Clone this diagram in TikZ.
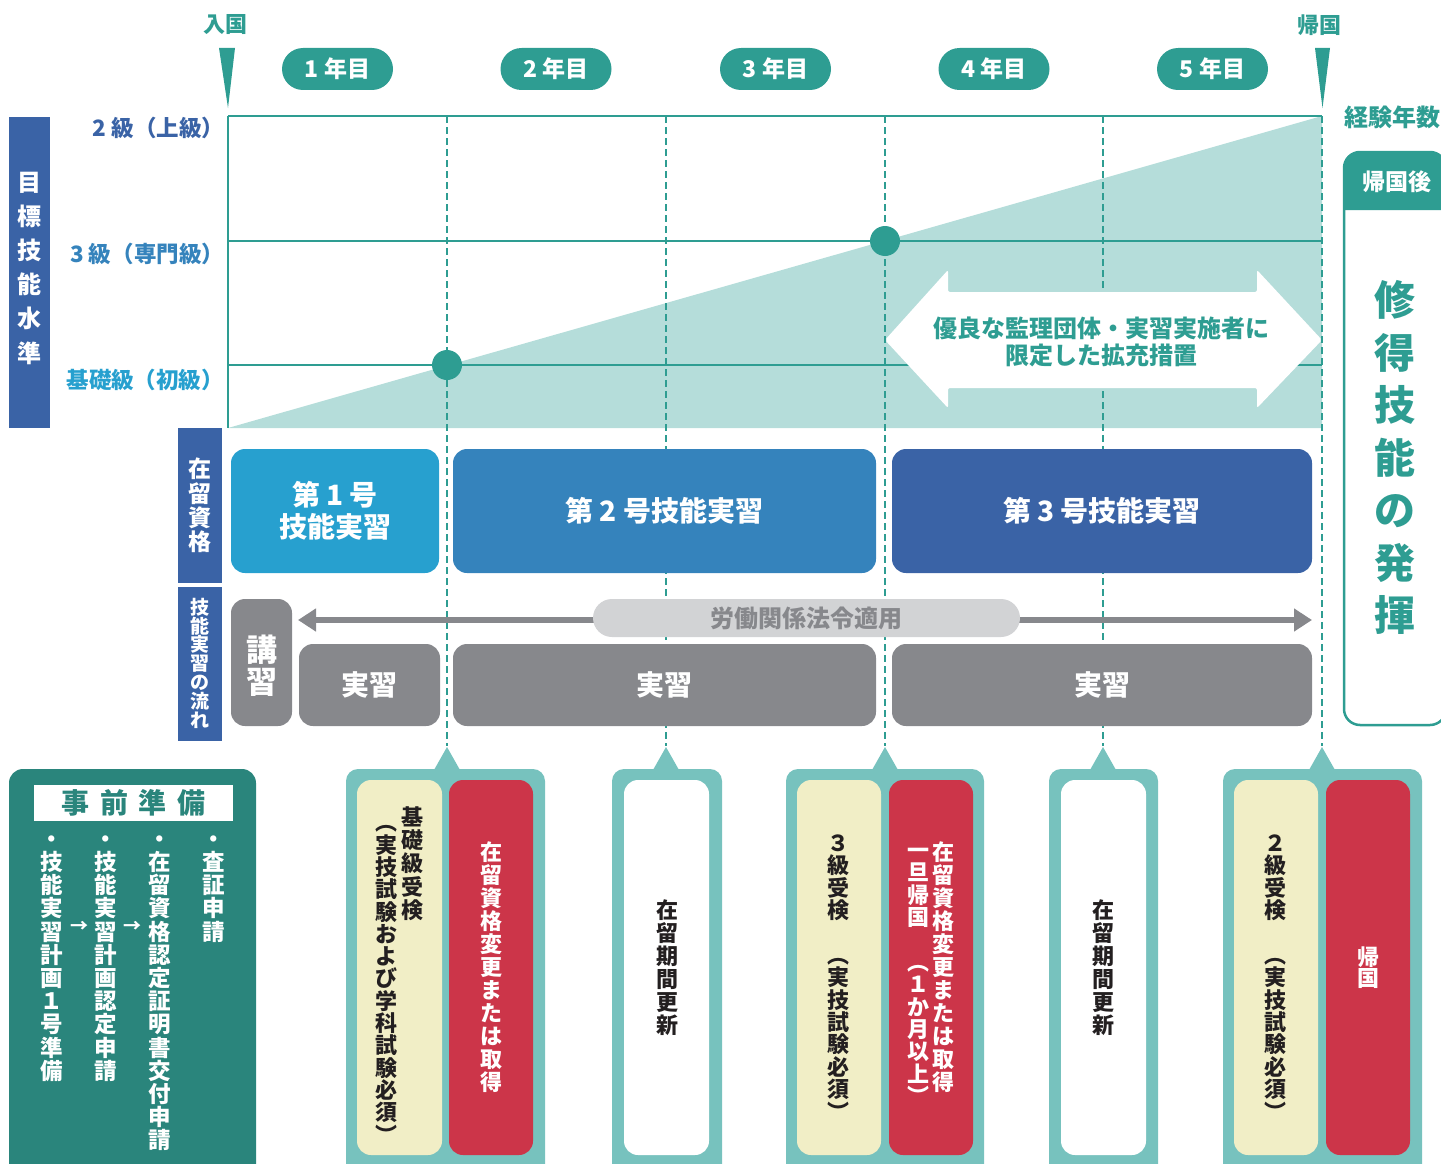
\documentclass[tikz,border=0pt]{standalone}
\usepackage{fontspec}
\setmainfont{Noto Sans CJK JP}
\usetikzlibrary{arrows.meta}
\ExplSyntaxOn
\cs_new_eq:NN \vmap \tl_map_inline:nn
\ExplSyntaxOff
\newcommand\vcol[2]{\vbox{\baselineskip=#1pt\lineskiplimit=-1000pt\lineskip=0pt\relax\vmap{#2}{\hbox to 1em{\hss\vrule width 0pt height .88em depth .12em\relax ##1\hss}}}}
\newcommand\fsb[2]{\fontsize{#1}{#2}\selectfont\bfseries}
\definecolor{tealM}{HTML}{2E9D92}
\definecolor{tealL}{HTML}{B5DDDA}
\definecolor{tealC}{HTML}{77C2BE}
\definecolor{tealD}{HTML}{2A857C}
\definecolor{blueD}{HTML}{3A63A6}
\definecolor{blueM}{HTML}{3583BC}
\definecolor{blueL}{HTML}{27A0CF}
\definecolor{grayM}{HTML}{87888C}
\definecolor{grayL}{HTML}{D2D3D5}
\definecolor{creamC}{HTML}{F1EEC6}
\definecolor{redC}{HTML}{CC3549}
\definecolor{ink}{HTML}{231F20}
\begin{document}
\begin{tikzpicture}[x=1pt,y=-1pt,
  every node/.style={inner sep=0pt,outer sep=0pt},
  dashline/.style={tealM,line width=2pt,dash pattern=on 7pt off 4pt},
  gridline/.style={tealM,line width=2.2pt},
  pill/.style={fill=tealM,text=white,rounded corners=21pt,minimum width=111pt,minimum height=42pt,font=\fsb{23}{23}},
  vt/.style={anchor=north},
  bluebox/.style={rounded corners=14pt,minimum height=124pt,text=white,font=\fsb{28}{32},align=center},
  graybox/.style={fill=grayM,rounded corners=14pt,text=white,font=\fsb{28}{28}},
  inner/.style={rounded corners=14pt,minimum height=375pt},
  calloutbg/.style={fill=tealC,rounded corners=12pt}
]
\useasboundingbox (0,0) rectangle (1441,1164);
\clip (0,0) rectangle (1441,1164);

% ---------- chart ----------
\fill[tealL] (228,428) -- (1322,116) -- (1322,428) -- cycle;
\foreach \x/\n in {447/1,666/2,885/3,1103/4,1322/5}{
  \coordinate (dt\n) at (\x,116);
  \coordinate (db\n) at (\x,746);
  \draw[dashline] (dt\n) -- (db\n);
}
\coordinate (g0l) at (228,116); \coordinate (g0r) at (1322,116);
\coordinate (g1l) at (228,241); \coordinate (g1r) at (1322,241);
\coordinate (g2l) at (228,365); \coordinate (g2r) at (1322,365);
\coordinate (g3l) at (228,428);
\draw[gridline] (g0l) -- (g0r);
\draw[gridline] (g1l) -- (g1r);
\draw[gridline] (g2l) -- (g2r);
\draw[gridline] (g0l) -- (g3l);
\fill[tealM] (447,365) circle[radius=15];
\fill[tealM] (885,241) circle[radius=15];

% white double arrow
\fill[white,rounded corners=2pt] (885,340) -- (948,270) -- (948,292) -- (1257,292) -- (1257,270) -- (1322,340) -- (1257,408) -- (1257,388) -- (948,388) -- (948,408) -- cycle;
\node[align=center,text=tealM,font=\fsb{24}{27}] (expand) at (1101,341.5) {優良な監理団体・実習実施者に\\限定した拡充措置};

% ---------- top markers ----------
\node[text=tealM,font=\fsb{22}{22}] (nyukoku) at (225,25) {入国};
\node[text=tealM,font=\fsb{22}{22}] (kikoku) at (1319,25) {帰国};
\fill[tealM] (219,48) -- (235,48) -- (228,108) -- cycle;
\fill[tealM] (1315,48) -- (1330,48) -- (1322.5,108) -- cycle;
\node[pill] (y1) at (337.5,69) {1 年目};
\node[pill] (y2) at (556,69) {2 年目};
\node[pill] (y3) at (775.5,69) {3 年目};
\node[pill] (y4) at (994,69) {4 年目};
\node[pill] (y5) at (1212.5,69) {5 年目};
\node[text=tealM,font=\fsb{24}{24}] (keiken) at (1392,117) {経験年数};

% ---------- left axis ----------
\fill[blueD] (9,117) rectangle (50,428);
\node[vt,text=white,font=\fsb{24}{24}] (mokuhyo) at (29.5,170) {\vcol{34.2}{目標技能水準}};
\node[anchor=east,text=blueD,font=\fsb{22.5}{22.5}] (lv2) at (224,128) {2 級（上級）};
\node[anchor=east,text=blueM,font=\fsb{22.5}{22.5}] (lv3) at (224,254) {3 級（専門級）};
\node[anchor=east,text=blueL,font=\fsb{22.5}{22.5}] (lvb) at (224,380) {基礎級（初級）};

\fill[blueD] (178,428) rectangle (222,583);
\fill[blueD] (178,587) rectangle (222,741);
\node[vt,text=white,font=\fsb{23}{23}] (zairyu) at (200,457.5) {\vcol{24.3}{在留資格}};
\node[vt,text=white,font=\fsb{19}{19}] (nagare) at (200,597.5) {\vcol{18.8}{技能実習の流れ}};

% ---------- status boxes ----------
\node[bluebox,fill=blueL,minimum width=208pt] (no1) at (335,511) {第 1 号\\技能実習};
\node[bluebox,fill=blueM,minimum width=423pt] (no2) at (664.5,511) {第 2 号技能実習};
\node[bluebox,fill=blueD,minimum width=420pt] (no3) at (1102,511) {第 3 号技能実習};

% ---------- practice row ----------
\node[graybox,minimum width=61pt,minimum height=127pt] (koshu) at (261.5,662.5) {};
\node[vt,text=white,font=\fsb{31}{31}] (koshuT) at (261.5,634.5) {\vcol{32}{講習}};
\node[graybox,minimum width=141pt,minimum height=82pt] (j1) at (369.5,685) {実習};
\node[graybox,minimum width=423pt,minimum height=82pt] (j2) at (664.5,685) {実習};
\node[graybox,minimum width=420pt,minimum height=82pt] (j3) at (1102,685) {実習};
\coordinate (aL) at (298,620);
\coordinate (aR) at (1312,620);
\draw[grayM,line width=6pt,{Triangle[length=18pt,width=22pt]}-{Triangle[length=18pt,width=22pt]}] (aL) -- (aR);
\node[fill=grayL,rounded corners=19pt,minimum width=427pt,minimum height=38pt,text=grayM,font=\fsb{24}{24}] (law) at (806.5,618) {労働関係法令適用};

% ---------- after return ----------
\draw[tealM,line width=2.5pt,rounded corners=16pt,fill=white] (1344,152) rectangle (1446,725);
\fill[tealM] (1344,210) -- (1344,168) arc[start angle=180,end angle=270,radius=16] -- (1430,152) arc[start angle=270,end angle=360,radius=16] -- (1446,210) -- cycle;
\node[text=white,font=\fsb{23}{23}] (kikokugo) at (1397,182) {帰国後};
\node[vt,text=tealM,font=\fsb{41}{41}] (hakki) at (1395,279.5) {\vcol{52.5}{修得技能の発揮}};

% ---------- preparation ----------
\fill[tealD,rounded corners=14pt] (9,769) rectangle (256,1200);
\node[fill=white,minimum width=199pt,minimum height=36pt] (prepbox) at (133.5,803) {};
\node[text=tealD,font=\fsb{28}{28}] (prepT) at (133.5,803) {事\hspace{10.7pt}前\hspace{10.7pt}準\hspace{10.7pt}備};
\node[vt,text=white,font=\fsb{22.5}{22.5}] (p1) at (52,827.5) {\vcol{23.2}{・技能実習計画１号準備}};
\node[vt,text=white,font=\fsb{22.5}{22.5}] (p2) at (106,827.5) {\vcol{23.2}{・技能実習計画認定申請}};
\node[vt,text=white,font=\fsb{22.5}{22.5}] (p3) at (160,827.5) {\vcol{23.2}{・在留資格認定証明書交付申請}};
\node[vt,text=white,font=\fsb{22.5}{22.5}] (p4) at (214,827.5) {\vcol{23.2}{・査証申請}};
\node[text=white,font=\fsb{18}{18}] (ar1) at (79,927) {→};
\node[text=white,font=\fsb{18}{18}] (ar2) at (132,927) {→};

% ---------- callouts ----------
% 1
\fill[calloutbg] (346,769) rectangle (545,1200);
\fill[tealC] (434,770) -- (447,747) -- (460,770) -- cycle;
\node[inner,fill=creamC,minimum width=85pt] (c1a) at (399.5,967.5) {};
\node[inner,fill=redC,minimum width=84pt] (c1b) at (491,967.5) {};
\node[vt,text=ink,font=\fsb{22}{22}] (c1t1) at (412,806) {\vcol{23.3}{基礎級受検}};
\node[vt,text=ink,font=\fsb{22}{22}] (c1t2) at (386,811.5) {\vcol{22.3}{︵実技試験および学科試験必須︶}};
\node[vt,text=white,font=\fsb{22}{22}] (c1t3) at (491,841) {\vcol{23}{在留資格変更または取得}};
% 2
\fill[calloutbg] (612,769) rectangle (722,1200);
\fill[tealC] (653,770) -- (666,747) -- (679,770) -- cycle;
\node[inner,fill=white,minimum width=85pt] (c2a) at (666.5,967.5) {};
\node[vt,text=ink,font=\fsb{22}{22}] (c2t) at (667,899) {\vcol{23}{在留期間更新}};
% 3
\fill[calloutbg] (786,769) rectangle (984,1200);
\fill[tealC] (872,770) -- (885,747) -- (898,770) -- cycle;
\node[inner,fill=creamC,minimum width=84pt] (c3a) at (839,967.5) {};
\node[inner,fill=redC,minimum width=84pt] (c3b) at (931,967.5) {};
\node[vt,text=ink,font=\fsb{22}{22}] (c3t1) at (838,832) {\vcol{22.4}{３級受検　︵実技試験必須︶}};
\node[vt,text=white,font=\fsb{22}{22}] (c3t2) at (943,841) {\vcol{23}{在留資格変更または取得}};
\node[vt,text=white,font=\fsb{22}{22}] (c3t3) at (918,839) {\vcol{22.4}{一旦帰国　︵１か月以上︶}};
% 4
\fill[calloutbg] (1049,769) rectangle (1158,1200);
\fill[tealC] (1090,770) -- (1103,747) -- (1116,770) -- cycle;
\node[inner,fill=white,minimum width=85pt] (c4a) at (1103.5,967.5) {};
\node[vt,text=ink,font=\fsb{22}{22}] (c4t) at (1103,899) {\vcol{23}{在留期間更新}};
% 5
\fill[calloutbg] (1223,769) rectangle (1422,1200);
\fill[tealC] (1309,770) -- (1322,747) -- (1335,770) -- cycle;
\node[inner,fill=creamC,minimum width=84pt] (c5a) at (1276,967.5) {};
\node[inner,fill=redC,minimum width=84pt] (c5b) at (1368,967.5) {};
\node[vt,text=ink,font=\fsb{22}{22}] (c5t1) at (1275,832) {\vcol{22.4}{２級受検　︵実技試験必須︶}};
\node[vt,text=white,font=\fsb{22}{22}] (c5t2) at (1368,946) {\vcol{21.5}{帰国}};
\end{tikzpicture}
\end{document}
